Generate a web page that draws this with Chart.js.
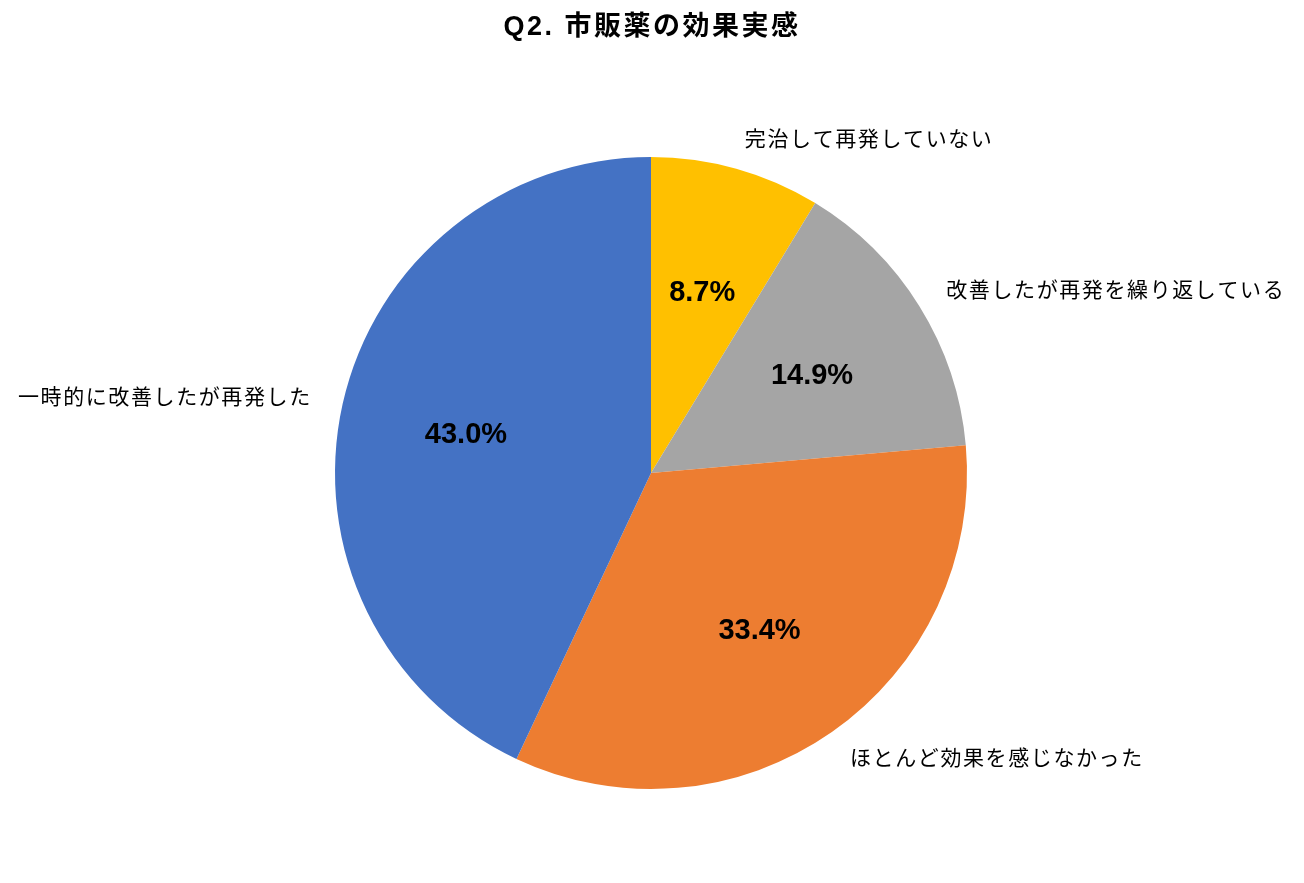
<!DOCTYPE html>
<html lang="ja">
<head>
<meta charset="utf-8">
<title>Q2. 市販薬の効果実感</title>
<script src="https://cdn.jsdelivr.net/npm/chart.js@4.4.1/dist/chart.umd.min.js"></script>
<style>
  html, body { margin: 0; padding: 0; background: #fff; }
  #wrap { width: 1304px; height: 883px; position: relative; }
</style>
</head>
<body>
<div id="wrap"><canvas id="pieChart"></canvas></div>
<script>
// data (clockwise from 12 o'clock)
const titleText = "Q2. 市販薬の効果実感";
const categories = [
  "完治して再発していない",
  "改善したが再発を繰り返している",
  "ほとんど効果を感じなかった",
  "一時的に改善したが再発した",
];
const shares = [8.7, 14.9, 33.4, 43.0];
const sliceColors = ["#FFC000", "#A5A5A5", "#ED7D31", "#4472C4"];

const jpFont = '"Liberation Sans", "Noto Sans CJK JP", sans-serif';

// Title + labels: percent inside the slice, category name just outside the rim
const sliceLabels = {
  id: "sliceLabels",
  afterDatasetsDraw(chart) {
    const ctx = chart.ctx;
    const meta = chart.getDatasetMeta(0);
    ctx.save();
    ctx.fillStyle = "#000";
    ctx.textBaseline = "middle";

    // title
    ctx.font = "bold 27px " + jpFont;
    ctx.letterSpacing = "2.5px";
    ctx.textAlign = "center";
    ctx.fillText(titleText, chart.width / 2, 28);

    meta.data.forEach((arc, i) => {
      const p = arc.getProps(["x", "y", "startAngle", "endAngle", "outerRadius"], true);
      const mid = (p.startAngle + p.endAngle) / 2;
      const cos = Math.cos(mid);
      const sin = Math.sin(mid);

      // percentage
      ctx.font = "bold 29px " + jpFont;
      ctx.letterSpacing = "0px";
      ctx.textAlign = "center";
      const rIn = p.outerRadius * 0.6;
      ctx.fillText(shares[i].toFixed(1) + "%", p.x + cos * rIn, p.y + sin * rIn + 3);

      // category name
      ctx.font = "21px " + jpFont;
      ctx.letterSpacing = "1.6px";
      const rOut = p.outerRadius * 1.1;
      ctx.textAlign = cos >= 0 ? "left" : "right";
      ctx.fillText(categories[i], p.x + cos * rOut, p.y + sin * rOut + 1.5);
    });
    ctx.restore();
  },
};

document.addEventListener("DOMContentLoaded", () => {
  const ctxPie = document.getElementById("pieChart").getContext("2d");
  new Chart(ctxPie, {
    type: "pie",
    data: {
      labels: categories,
      datasets: [
        {
          data: shares,
          backgroundColor: sliceColors,
          borderWidth: 0,
        },
      ],
    },
    options: {
      responsive: true,
      maintainAspectRatio: false,
      animation: false,
      layout: { padding: { left: 335, right: 337, top: 157, bottom: 94 } },
      plugins: {
        legend: { display: false },
        tooltip: { enabled: false },
        title: { display: false },
      },
    },
    plugins: [sliceLabels],
  });
});
</script>
</body>
</html>
